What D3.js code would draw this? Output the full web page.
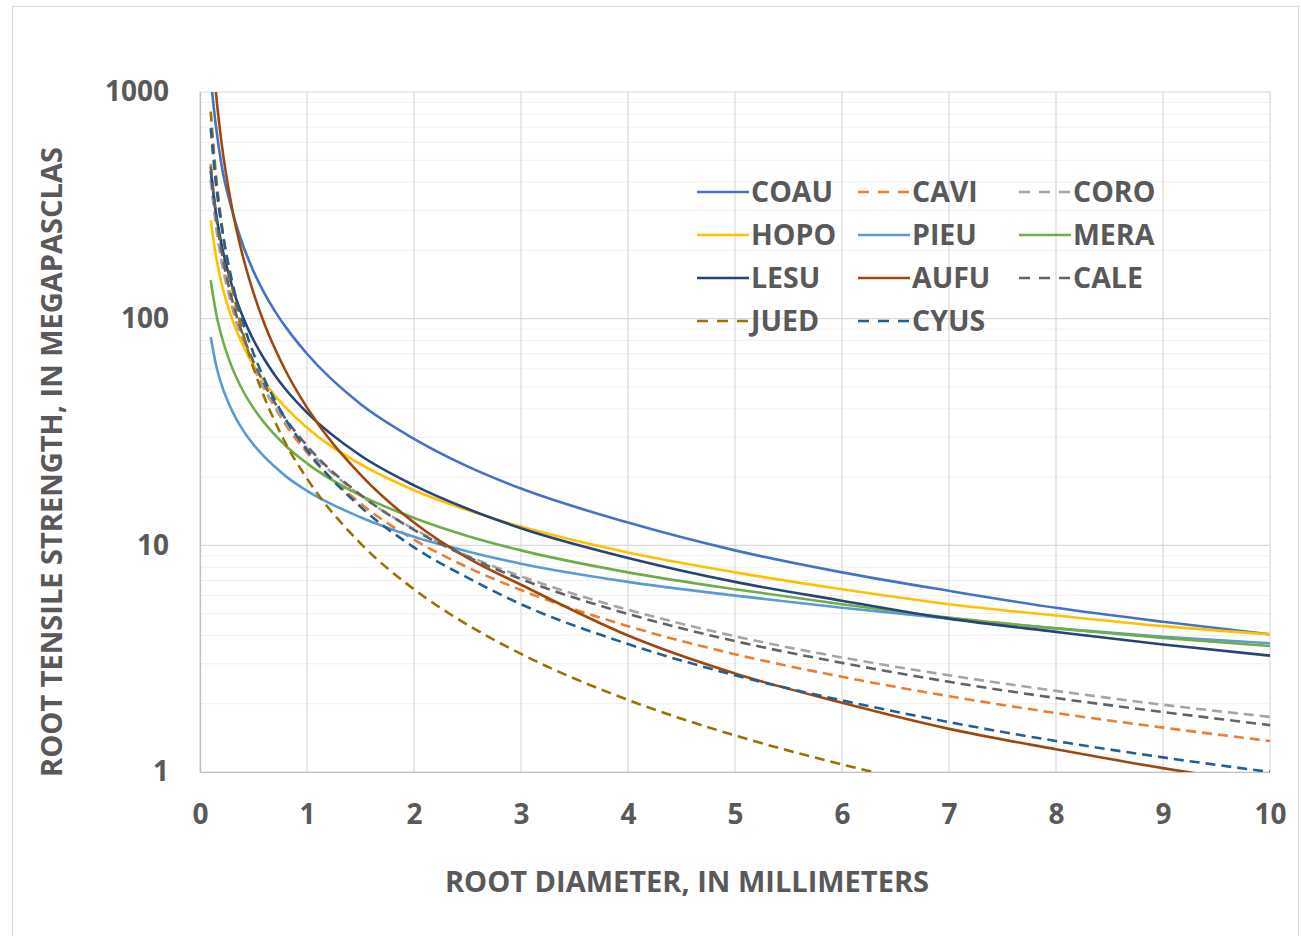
<!DOCTYPE html>
<html>
<head>
<meta charset="utf-8">
<script src="https://cdn.jsdelivr.net/npm/d3@7"></script>
<style>
  body { margin: 0; background: #fff; }
  text { font-family: "Open Sans", "DejaVu Sans", sans-serif; font-weight: 700; fill: #595959; }
</style>
</head>
<body>
<div id="chart"></div>
<script>
// Root diameter (mm) where each curve was read
const diameters = [0.1, 0.15, 0.2, 0.3, 0.4, 0.5, 0.6, 0.7, 0.8, 1, 1.5, 2, 2.5, 3, 4, 5, 6, 7, 8, 9, 10];

// Tensile strength (MPa), one list per species
const coau = [1150, 700, 480, 300, 212, 162, 130, 108, 92, 70, 42, 29.5, 22.3, 17.8, 12.6, 9.5, 7.6, 6.3, 5.3, 4.6, 4.05];
const cavi = [482, 288, 200, 119, 82.6, 62.1, 49.3, 40.6, 34.1, 25.7, 15.3, 10.6, 8.0, 6.35, 4.4, 3.31, 2.63, 2.16, 1.82, 1.57, 1.37];
const coro = [411, 254, 181, 112, 79.4, 61.0, 49.1, 41.0, 34.9, 26.8, 16.6, 11.8, 9.0, 7.3, 5.2, 3.97, 3.2, 2.67, 2.28, 1.98, 1.75];
const hopo = [272, 188, 144, 99.5, 76.5, 62.4, 52.7, 45.8, 40.6, 33, 22.8, 17.5, 14.3, 12.1, 9.3, 7.6, 6.4, 5.5, 4.9, 4.4, 4.05];
const pieu = [83, 62.5, 51.4, 39.2, 32.3, 27.8, 24.6, 22.2, 20.2, 17.4, 13.3, 10.9, 9.4, 8.3, 6.9, 6.0, 5.3, 4.75, 4.3, 3.95, 3.7];
const mera = [148, 106, 84.3, 60.8, 48.2, 40.3, 34.8, 30.7, 27.5, 23, 16.6, 13.2, 11.0, 9.5, 7.6, 6.4, 5.5, 4.8, 4.3, 3.9, 3.6];
const lesu = [449, 291, 214, 139, 102, 80.5, 66.4, 56.3, 48.8, 38.5, 24.9, 18.4, 14.5, 11.9, 8.8, 6.9, 5.7, 4.75, 4.15, 3.65, 3.26];
const aufu = [1936, 980, 604, 306, 189, 130, 95.5, 73.8, 58.9, 40.5, 20.5, 12.6, 8.8, 6.7, 4.0, 2.72, 2.02, 1.55, 1.26, 1.04, 0.88];
const cale = [469, 284, 200, 121, 84.9, 64.6, 51.5, 42.5, 36.2, 27.5, 16.7, 11.7, 8.9, 7.1, 4.98, 3.78, 3.03, 2.5, 2.12, 1.84, 1.61];
const jued = [820, 426, 267, 138, 86.9, 60.5, 45.1, 35.2, 28.2, 19.7, 10.2, 6.4, 4.46, 3.32, 2.08, 1.45, 1.08, 0.84, 0.68, 0.56, 0.47];
const cyus = [692, 389, 259, 146, 96.6, 70.3, 54.3, 43.7, 36.1, 26.3, 14.8, 9.8, 7.2, 5.5, 3.67, 2.67, 2.07, 1.66, 1.37, 1.16, 1.0];

const xTicks = [0, 1, 2, 3, 4, 5, 6, 7, 8, 9, 10];
const yTicks = [1, 10, 100, 1000];

// legend order: row by row, three columns
const series = [
  { name: "COAU", values: coau, color: "#4472C4", dash: null },
  { name: "CAVI", values: cavi, color: "#ED7D31", dash: "10,6" },
  { name: "CORO", values: coro, color: "#A5A5A5", dash: "10,6" },
  { name: "HOPO", values: hopo, color: "#FFC000", dash: null },
  { name: "PIEU", values: pieu, color: "#5B9BD5", dash: null },
  { name: "MERA", values: mera, color: "#70AD47", dash: null },
  { name: "LESU", values: lesu, color: "#264478", dash: null },
  { name: "AUFU", values: aufu, color: "#9E480E", dash: null },
  { name: "CALE", values: cale, color: "#636363", dash: "10,6" },
  { name: "JUED", values: jued, color: "#997300", dash: "10,6" },
  { name: "CYUS", values: cyus, color: "#255E91", dash: "10,6" }
];

const width = 1301;
const height = 936;
const margin = { top: 92, right: 31, bottom: 164, left: 200 };
const innerW = width - margin.left - margin.right;
const innerH = height - margin.top - margin.bottom;

const svg = d3.select("#chart").append("svg")
  .attr("width", width)
  .attr("height", height);

// chart frame
svg.append("rect")
  .attr("x", 12.5).attr("y", 6.5)
  .attr("width", 1286).attr("height", 940)
  .attr("fill", "none")
  .attr("stroke", "#d9d9d9");

const g = svg.append("g").attr("transform", `translate(${margin.left},${margin.top})`);

const x = d3.scaleLinear().domain([0, 10]).range([0, innerW]);
const y = d3.scaleLog().domain([1, 1000]).range([innerH, 0]);

// minor horizontal grid
const minor = [];
[1, 10, 100].forEach((dec) => {
  for (let k = 2; k <= 9; k++) minor.push(dec * k);
});
g.append("g").selectAll("line").data(minor).enter().append("line")
  .attr("x1", 0).attr("x2", innerW)
  .attr("y1", (d) => y(d)).attr("y2", (d) => y(d))
  .attr("stroke", "#efefef").attr("stroke-width", 1);

// major grid
g.append("g").selectAll("line").data(yTicks).enter().append("line")
  .attr("x1", 0).attr("x2", innerW)
  .attr("y1", (d) => y(d)).attr("y2", (d) => y(d))
  .attr("stroke", "#d9d9d9").attr("stroke-width", 1.2);

g.append("g").selectAll("line").data(xTicks).enter().append("line")
  .attr("x1", (d) => x(d)).attr("x2", (d) => x(d))
  .attr("y1", 0).attr("y2", innerH)
  .attr("stroke", "#d9d9d9").attr("stroke-width", 1.2);

// axes
const xAxis = g.append("g")
  .attr("transform", `translate(0,${innerH})`)
  .call(d3.axisBottom(x).tickValues(xTicks).tickSize(0).tickPadding(32).tickFormat(d3.format("d")));
xAxis.select(".domain").attr("stroke", "#bfbfbf").attr("stroke-width", 1.2);
xAxis.selectAll("text").style("font-size", "28px").attr("fill", "#595959")
  .style("font-family", "'Open Sans', sans-serif").style("font-weight", 700);

const yAxis = g.append("g")
  .call(d3.axisLeft(y).tickValues(yTicks).tickSize(0).tickPadding(31).tickFormat(d3.format("d")));
yAxis.select(".domain").attr("stroke", "#bfbfbf").attr("stroke-width", 1.2);
yAxis.selectAll("text").style("font-size", "28px").attr("fill", "#595959")
  .style("font-family", "'Open Sans', sans-serif").style("font-weight", 700);

// lines, clipped to plot area
g.append("clipPath").attr("id", "plotClip")
  .append("rect").attr("width", innerW).attr("height", innerH);

const line = d3.line()
  .x((d) => x(d[0]))
  .y((d) => y(d[1]))
  .curve(d3.curveMonotoneX);

g.append("g").attr("clip-path", "url(#plotClip)")
  .selectAll("path").data(series).enter().append("path")
  .attr("d", (s) => line(diameters.map((dm, i) => [dm, s.values[i]])))
  .attr("fill", "none")
  .attr("stroke", (s) => s.color)
  .attr("stroke-width", 2.6)
  .attr("stroke-dasharray", (s) => s.dash);

// legend
const legend = svg.append("g").attr("transform", "translate(697,192)");
const item = legend.selectAll("g").data(series).enter().append("g")
  .attr("transform", (d, i) => `translate(${(i % 3) * 161},${Math.floor(i / 3) * 43})`);
item.append("line")
  .attr("x1", 0).attr("x2", 52)
  .attr("stroke", (d) => d.color)
  .attr("stroke-width", 2.6)
  .attr("stroke-dasharray", (d) => (d.dash ? "11,9" : null));
item.append("text")
  .attr("x", 54).attr("dy", "0.36em")
  .style("font-size", "28.5px")
  .text((d) => d.name);

// axis titles
svg.append("text")
  .attr("x", 687).attr("y", 882)
  .attr("dy", "0.36em")
  .attr("text-anchor", "middle")
  .style("font-size", "29px")
  .text("ROOT DIAMETER, IN MILLIMETERS");

svg.append("text")
  .attr("transform", "translate(52,462) rotate(-90)")
  .attr("dy", "0.36em")
  .attr("text-anchor", "middle")
  .style("font-size", "29px")
  .text("ROOT TENSILE STRENGTH, IN MEGAPASCLAS");
</script>
</body>
</html>
